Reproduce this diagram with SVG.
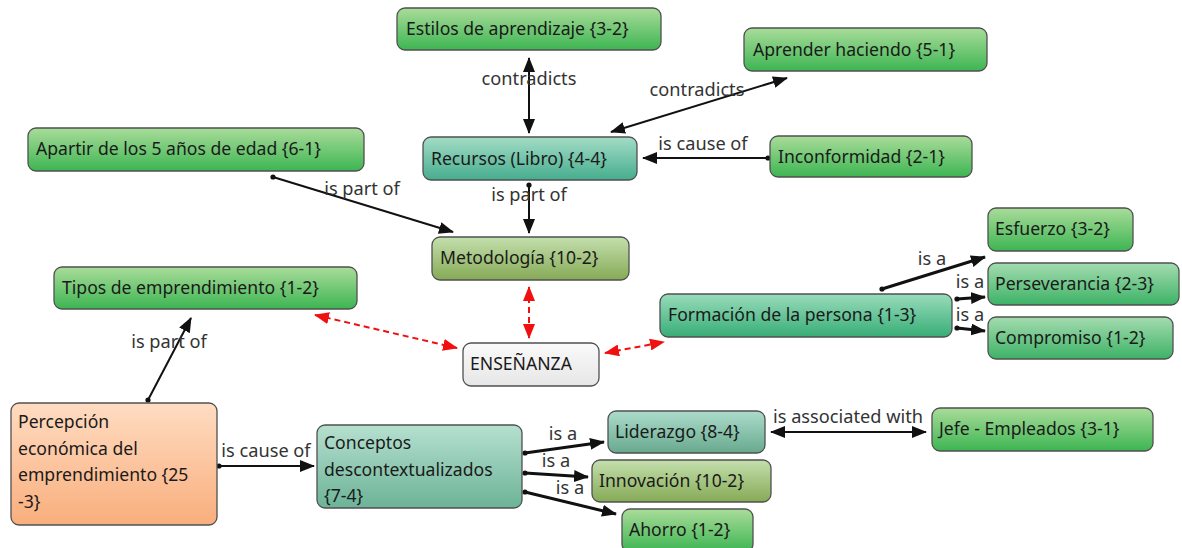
<svg xmlns="http://www.w3.org/2000/svg" width="1182" height="548" viewBox="0 0 1182 548">
<style>
.n rect{stroke:#505050;stroke-width:1.3}
.n text,.lb{font-family:"Noto Sans","Open Sans",sans-serif;font-size:17.6px;fill:#1a1a1a}
.lb{fill:#333;text-anchor:middle;font-size:18.2px}
.c{stroke:#111;stroke-width:2;fill:none}
.t{stroke-width:3}
.r{stroke:#f01010;stroke-width:2;stroke-dasharray:6,4;fill:none}
</style>
<defs>
<linearGradient id="g" x1="0" y1="0" x2="0" y2="1"><stop offset="0" stop-color="#a9dc9a"/><stop offset="1" stop-color="#3db552"/></linearGradient>
<linearGradient id="tg" x1="0" y1="0" x2="0" y2="1"><stop offset="0" stop-color="#a3dcc6"/><stop offset="1" stop-color="#46ad8e"/></linearGradient>
<linearGradient id="tg2" x1="0" y1="0" x2="0" y2="1"><stop offset="0" stop-color="#98dcbb"/><stop offset="1" stop-color="#38ad77"/></linearGradient>
<linearGradient id="gg" x1="0" y1="0" x2="0" y2="1"><stop offset="0" stop-color="#a4dcb0"/><stop offset="1" stop-color="#3db266"/></linearGradient>
<linearGradient id="ol" x1="0" y1="0" x2="0" y2="1"><stop offset="0" stop-color="#c4dfad"/><stop offset="1" stop-color="#86aa56"/></linearGradient>
<linearGradient id="gr" x1="0" y1="0" x2="0" y2="1"><stop offset="0" stop-color="#fafafa"/><stop offset="1" stop-color="#e6e6e6"/></linearGradient>
<linearGradient id="or" x1="0" y1="0" x2="0" y2="1"><stop offset="0" stop-color="#ffdcc2"/><stop offset="1" stop-color="#f9ae7c"/></linearGradient>
<linearGradient id="cg" x1="0" y1="0" x2="0" y2="1"><stop offset="0" stop-color="#b6e0d0"/><stop offset="1" stop-color="#6cb397"/></linearGradient>
<linearGradient id="lg" x1="0" y1="0" x2="0" y2="1"><stop offset="0" stop-color="#acdccb"/><stop offset="1" stop-color="#68a98e"/></linearGradient>
<marker id="a" markerUnits="userSpaceOnUse" markerWidth="16" markerHeight="12" refX="14" refY="6" orient="auto-start-reverse"><path d="M0,0 L15,6 L0,12 z" fill="#111"/></marker>
<marker id="ar" markerUnits="userSpaceOnUse" markerWidth="16" markerHeight="12" refX="14" refY="6" orient="auto-start-reverse"><path d="M0,0 L15,6 L0,12 z" fill="#f01010"/></marker>
<marker id="d" markerUnits="userSpaceOnUse" markerWidth="8" markerHeight="8" refX="4" refY="4"><circle cx="4" cy="4" r="2.6" fill="#111"/></marker>
</defs>

<g id="connectors">
<line class="c" x1="529" y1="58" x2="529" y2="133" marker-start="url(#a)" marker-end="url(#a)"/>
<line class="c" x1="611" y1="132" x2="787" y2="78" marker-start="url(#a)" marker-end="url(#a)"/>
<line class="c" x1="768" y1="158" x2="643" y2="158" marker-start="url(#d)" marker-end="url(#a)"/>
<line class="c" x1="529" y1="185" x2="529" y2="233" marker-start="url(#d)" marker-end="url(#a)"/>
<line class="c" x1="273" y1="177" x2="453" y2="232" marker-start="url(#d)" marker-end="url(#a)"/>
<line class="r" x1="529" y1="287" x2="529" y2="338" marker-start="url(#ar)" marker-end="url(#ar)"/>
<line class="r" x1="315" y1="315" x2="457" y2="348" marker-start="url(#ar)" marker-end="url(#ar)"/>
<line class="r" x1="605" y1="353" x2="664" y2="342" marker-start="url(#ar)" marker-end="url(#ar)"/>
<line class="c" x1="148" y1="400" x2="191" y2="318" marker-start="url(#d)" marker-end="url(#a)"/>
<line class="c" x1="219" y1="466" x2="314" y2="466" marker-start="url(#d)" marker-end="url(#a)"/>
<line class="c t" x1="882" y1="289" x2="985" y2="257" marker-start="url(#d)" marker-end="url(#a)"/>
<line class="c t" x1="957" y1="299" x2="985" y2="297" marker-start="url(#d)" marker-end="url(#a)"/>
<line class="c t" x1="957" y1="328" x2="985" y2="331" marker-start="url(#d)" marker-end="url(#a)"/>
<line class="c t" x1="525" y1="453" x2="604" y2="442" marker-start="url(#d)" marker-end="url(#a)"/>
<line class="c t" x1="525" y1="473" x2="588" y2="477" marker-start="url(#d)" marker-end="url(#a)"/>
<line class="c t" x1="525" y1="492" x2="616" y2="514" marker-start="url(#d)" marker-end="url(#a)"/>
<line class="c" x1="771" y1="432" x2="926" y2="432" marker-start="url(#a)" marker-end="url(#a)"/>
<text class="lb" x="529" y="85">contradicts</text>
<text class="lb" x="697" y="96">contradicts</text>
<text class="lb" x="703" y="150">is cause of</text>
<text class="lb" x="529" y="201">is part of</text>
<text class="lb" x="362" y="195">is part of</text>
<text class="lb" x="169" y="348">is part of</text>
<text class="lb" x="266" y="457">is cause of</text>
<text class="lb" x="932" y="265">is a</text>
<text class="lb" x="970" y="288">is a</text>
<text class="lb" x="970" y="321">is a</text>
<text class="lb" x="563" y="440">is a</text>
<text class="lb" x="556" y="467">is a</text>
<text class="lb" x="570" y="494">is a</text>
<text class="lb" x="848" y="423">is associated with</text>
</g>

<g id="n-estilos" class="n"><rect x="397" y="8" width="264" height="42" rx="8" fill="url(#g)"/><text x="406" y="35">Estilos de aprendizaje {3-2}</text></g>
<g id="n-aprender" class="n"><rect x="744" y="28" width="243" height="43" rx="8" fill="url(#g)"/><text x="753" y="56">Aprender haciendo {5-1}</text></g>
<g id="n-recursos" class="n"><rect x="423" y="137" width="214" height="43" rx="8" fill="url(#tg)"/><text x="431" y="165">Recursos (Libro) {4-4}</text></g>
<g id="n-inconformidad" class="n"><rect x="770" y="136" width="202" height="41" rx="8" fill="url(#g)"/><text x="778" y="163">Inconformidad {2-1}</text></g>
<g id="n-apartir" class="n"><rect x="28" y="128" width="336" height="43" rx="8" fill="url(#g)"/><text x="36" y="155">Apartir de los 5 años de edad {6-1}</text></g>
<g id="n-tipos" class="n"><rect x="54" y="267" width="303" height="42" rx="8" fill="url(#g)"/><text x="62" y="294">Tipos de emprendimiento {1-2}</text></g>
<g id="n-metodologia" class="n"><rect x="432" y="237" width="197" height="43" rx="8" fill="url(#ol)"/><text x="440" y="264">Metodología {10-2}</text></g>
<g id="n-ensenanza" class="n"><rect x="463" y="343" width="136" height="43" rx="8" fill="url(#gr)"/><text x="470" y="370">ENSEÑANZA</text></g>
<g id="n-formacion" class="n"><rect x="660" y="294" width="292" height="43" rx="8" fill="url(#tg2)"/><text x="668" y="321">Formación de la persona {1-3}</text></g>
<g id="n-esfuerzo" class="n"><rect x="988" y="208" width="145" height="43" rx="8" fill="url(#g)"/><text x="995" y="235">Esfuerzo {3-2}</text></g>
<g id="n-perseverancia" class="n"><rect x="988" y="263" width="191" height="42" rx="8" fill="url(#gg)"/><text x="995" y="290">Perseverancia {2-3}</text></g>
<g id="n-compromiso" class="n"><rect x="988" y="317" width="185" height="42" rx="8" fill="url(#gg)"/><text x="995" y="344">Compromiso {1-2}</text></g>
<g id="n-percepcion" class="n"><rect x="11" y="403" width="206" height="122" rx="8" fill="url(#or)"/><text x="18" y="428">Percepción</text><text x="18" y="455">económica del</text><text x="18" y="481">emprendimiento {25</text><text x="18" y="508">-3}</text></g>
<g id="n-conceptos" class="n"><rect x="317" y="425" width="205" height="83" rx="8" fill="url(#cg)"/><text x="324" y="449">Conceptos</text><text x="324" y="476">descontextualizados</text><text x="324" y="502">{7-4}</text></g>
<g id="n-liderazgo" class="n"><rect x="608" y="411" width="157" height="42" rx="8" fill="url(#lg)"/><text x="615" y="438">Liderazgo {8-4}</text></g>
<g id="n-innovacion" class="n"><rect x="592" y="460" width="179" height="42" rx="8" fill="url(#ol)"/><text x="599" y="487">Innovación {10-2}</text></g>
<g id="n-ahorro" class="n"><rect x="622" y="509" width="131" height="43" rx="8" fill="url(#g)"/><text x="629" y="536">Ahorro {1-2}</text></g>
<g id="n-jefe" class="n"><rect x="932" y="408" width="221" height="43" rx="8" fill="url(#g)"/><text x="939" y="435">Jefe - Empleados {3-1}</text></g>
</svg>
